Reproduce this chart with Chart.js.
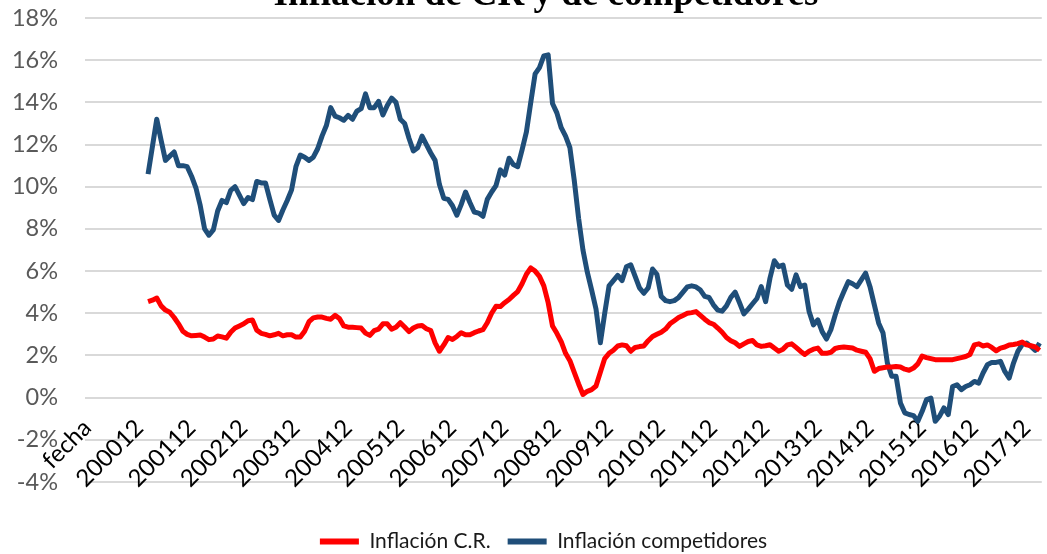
<!DOCTYPE html>
<html>
<head>
<meta charset="utf-8">
<script src="https://cdn.jsdelivr.net/npm/chart.js@4.4.1/dist/chart.umd.min.js"></script>
<style>
  html, body { margin: 0; padding: 0; width: 1047px; height: 554px; overflow: hidden; background: #fff; }
  #wrap { position: relative; width: 1047px; height: 554px; overflow: hidden; }
  #chart { position: absolute; left: 0; top: 0; }
  #title { position: absolute; left: 546px; top: -26px; transform: translateX(-50%);
           font-family: 'Liberation Serif', 'Times New Roman', serif; font-weight: bold;
           font-size: 37px; line-height: 37px; white-space: nowrap; color: #000; z-index: 2; }
</style>
</head>
<body>
<div id="wrap">
  <div id="title">Inflación de CR y de competidores</div>
  <canvas id="chart" width="1047" height="562"></canvas>
</div>
<script>
// Categories: "fecha" header cell, then months 200001 .. 201803
const categories = ['fecha'];
for (let y = 2000; y <= 2018; y++) {
  const last = (y === 2018) ? 3 : 12;
  for (let m = 1; m <= last; m++) categories.push(String(y) + (m < 10 ? '0' + m : String(m)));
}

const seriesNames = ['Inflación C.R.', 'Inflación competidores'];

// Inflación C.R. (%)
const crValues = [
  null, null, null, null, null, null, null, null, null, null, null, null, null, null,
  4.55, 4.62, 4.72, 4.35, 4.15, 4.05, 3.8, 3.5, 3.15, 3.0, 2.93,
  2.95, 2.97, 2.87, 2.75, 2.78, 2.92, 2.88, 2.82, 3.1, 3.3, 3.4, 3.5,
  3.65, 3.68, 3.2, 3.05, 3.0, 2.93, 2.98, 3.05, 2.93, 2.98, 2.98, 2.87,
  2.87, 3.15, 3.6, 3.78, 3.82, 3.82, 3.76, 3.72, 3.9, 3.75, 3.4, 3.34,
  3.34, 3.32, 3.3, 3.06, 2.95, 3.18, 3.25, 3.5, 3.5, 3.25, 3.34, 3.55,
  3.35, 3.13, 3.3, 3.4, 3.42, 3.27, 3.18, 2.6, 2.2, 2.5, 2.85, 2.76,
  2.9, 3.08, 2.98, 2.98, 3.08, 3.16, 3.22, 3.55, 4.0, 4.33, 4.32, 4.5,
  4.65, 4.85, 5.03, 5.4, 5.85, 6.15, 6.0, 5.75, 5.3, 4.5, 3.4, 3.05,
  2.65, 2.1, 1.75, 1.2, 0.65, 0.15, 0.3, 0.38, 0.55, 1.2, 1.85, 2.1,
  2.25, 2.45, 2.5, 2.46, 2.2, 2.38, 2.42, 2.45, 2.7, 2.9, 3.0, 3.1,
  3.25, 3.5, 3.65, 3.8, 3.9, 4.0, 4.03, 4.08, 3.9, 3.72, 3.56, 3.48,
  3.3, 3.1, 2.85, 2.7, 2.6, 2.43, 2.55, 2.66, 2.71, 2.5, 2.43, 2.46,
  2.51, 2.35, 2.2, 2.3, 2.5, 2.55, 2.38, 2.2, 2.05, 2.2, 2.3, 2.35,
  2.1, 2.1, 2.15, 2.33, 2.38, 2.4, 2.38, 2.35, 2.25, 2.2, 2.15, 1.85,
  1.25, 1.38, 1.42, 1.45, 1.45, 1.48, 1.45, 1.35, 1.3, 1.4, 1.6, 1.97,
  1.9, 1.85, 1.8, 1.8, 1.8, 1.8, 1.8, 1.85, 1.9, 1.95, 2.05, 2.5,
  2.55, 2.45, 2.5, 2.38, 2.22, 2.35, 2.4, 2.5, 2.52, 2.56, 2.64, 2.5,
  2.46, 2.4, 2.24
];

// Inflación competidores (%)
const compValues = [
  null, null, null, null, null, null, null, null, null, null, null, null, null, null,
  10.6, 11.9, 13.2, 12.2, 11.25, 11.45, 11.65, 11.0, 11.0, 10.95, 10.5,
  9.95, 9.1, 8.0, 7.7, 7.95, 8.85, 9.35, 9.25, 9.83, 10.0, 9.6, 9.2,
  9.49, 9.39, 10.25, 10.18, 10.18, 9.4, 8.65, 8.4, 8.9, 9.35, 9.85, 10.95,
  11.5, 11.4, 11.25, 11.4, 11.8, 12.4, 12.9, 13.75, 13.35, 13.27, 13.15, 13.38,
  13.2, 13.58, 13.7, 14.4, 13.75, 13.75, 14.05, 13.4, 13.85, 14.2, 14.0, 13.2,
  13.0, 12.3, 11.7, 11.85, 12.4, 12.0, 11.6, 11.25, 10.1, 9.45, 9.4, 9.1,
  8.65, 9.15, 9.75, 9.25, 8.8, 8.75, 8.6, 9.4, 9.75, 10.05, 10.8, 10.55,
  11.35, 11.05, 10.95, 11.75, 12.6, 14.0, 15.35, 15.65, 16.2, 16.25, 13.95, 13.5,
  12.8, 12.4, 11.85, 10.3, 8.5, 7.0, 5.95, 5.1, 4.2, 2.6, 4.0, 5.3,
  5.55, 5.8, 5.55, 6.2, 6.3, 5.75, 5.2, 4.95, 5.2, 6.1, 5.85, 4.8,
  4.6, 4.55, 4.6, 4.75, 5.0, 5.25, 5.3, 5.25, 5.1, 4.8, 4.75, 4.4,
  4.15, 4.1, 4.35, 4.75, 5.0, 4.5, 3.97, 4.2, 4.45, 4.7, 5.26, 4.55,
  5.66, 6.49, 6.21, 6.29, 5.34, 5.14, 5.82, 5.26, 5.34, 4.08, 3.45, 3.69,
  3.13, 2.78, 3.22, 3.92, 4.55, 5.03, 5.5, 5.4, 5.26, 5.58, 5.9, 5.26,
  4.4, 3.53, 3.06, 1.64, 1.01, 1.01, -0.25, -0.72, -0.8, -0.85, -1.12, -0.65,
  -0.09, -0.02, -1.12, -0.88, -0.49, -0.8, 0.53, 0.61, 0.38, 0.53, 0.61, 0.77,
  0.69, 1.17, 1.56, 1.67, 1.67, 1.72, 1.24, 0.93, 1.64, 2.19, 2.51, 2.59,
  2.43, 2.24, 2.59
];

// Y-axis range and step (%)
const yMin = -4, yMax = 18, yStep = 2;
const labelEvery = 12;

// The y-axis box is narrowed (legend centring); keep its labels from being clipped.
const unclipYLabels = {
  id: 'unclipYLabels',
  afterLayout(chart) { chart.scales.y.left = 0; }
};

const ctx = document.getElementById('chart').getContext('2d');
new Chart(ctx, {
  type: 'line',
  plugins: [unclipYLabels],
  data: {
    labels: categories,
    datasets: [
      { label: seriesNames[0], data: crValues, borderColor: '#FF0000', backgroundColor: '#FF0000',
        borderWidth: 5, pointRadius: 0, tension: 0, borderJoinStyle: 'round', spanGaps: false },
      { label: seriesNames[1], data: compValues, borderColor: '#1F4E79', backgroundColor: '#1F4E79',
        borderWidth: 5, pointRadius: 0, tension: 0, borderJoinStyle: 'round', spanGaps: false }
    ]
  },
  options: {
    responsive: false,
    animation: false,
    events: [],
    layout: { padding: { left: 40, top: 18, right: 0, bottom: 0 } },
    plugins: {
      title: { display: false },
      tooltip: { enabled: false },
      legend: {
        position: 'bottom',
        labels: {
          font: { family: 'Lato', size: 21 },
          color: '#1a1a1a',
          boxWidth: 39,
          boxHeight: 6,
          padding: 17,
          generateLabels(chart) {
            const items = Chart.defaults.plugins.legend.labels.generateLabels(chart);
            items.forEach(it => { it.lineWidth = 0; it.fillStyle = it.strokeStyle; });
            return items;
          }
        }
      }
    },
    scales: {
      x: {
        type: 'category',
        offset: true,
        position: { y: 0 },
        grid: { display: false, drawTicks: true, tickLength: 16 },
        border: { display: false },
        ticks: {
          autoSkip: false,
          minRotation: 45,
          maxRotation: 45,
          padding: 0,
          color: '#000000',
          font: { family: 'Lato', size: 24 },
          callback(value, index) {
            return index % labelEvery === 0 ? this.getLabelForValue(value) : null;
          }
        }
      },
      x2: {
        type: 'category',
        axis: 'x',
        position: 'bottom',
        display: true,
        grid: { display: false, drawTicks: false },
        border: { display: false },
        ticks: { display: false, padding: 0 },
        afterFit(s) { s.height = 32; }
      },
      y: {
        min: yMin,
        max: yMax,
        ticks: {
          stepSize: yStep,
          padding: 0,
          color: '#595959',
          font: { family: 'Lato', size: 23.5 },
          callback: v => v + '%'
        },
        grid: { color: '#d9d9d9', lineWidth: 2, drawTicks: true, tickLength: 27, tickColor: 'rgba(0,0,0,0)' },
        border: { display: false },
        afterFit(s) { s.width = 45; }
      }
    }
  }
});
</script>
</body>
</html>
